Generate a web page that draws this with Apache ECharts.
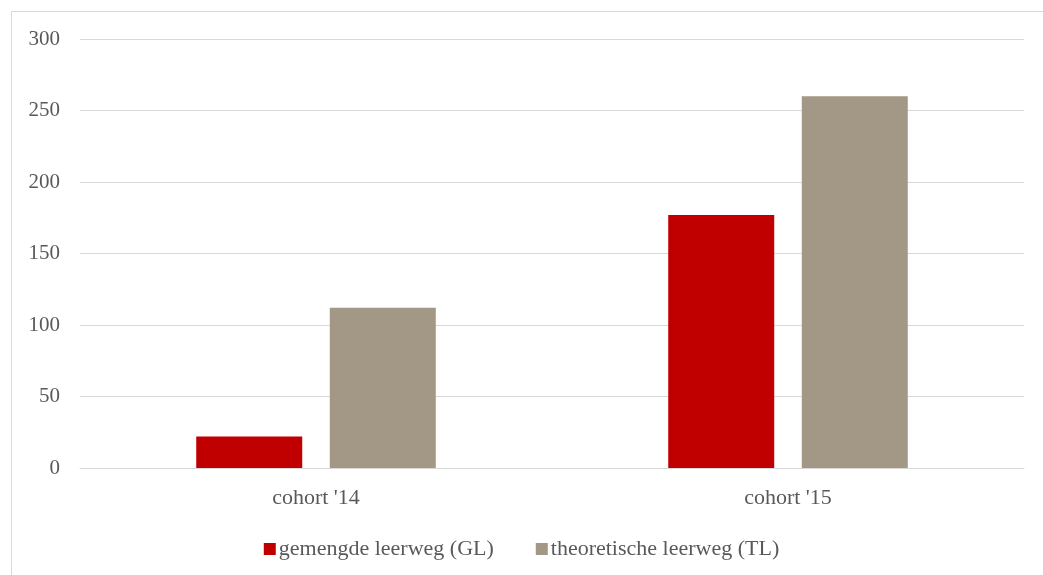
<!DOCTYPE html>
<html>
<head>
<meta charset="utf-8">
<script src="https://cdn.jsdelivr.net/npm/echarts@6/dist/echarts.min.js"></script>
<style>
html,body{margin:0;padding:0;background:#fff;}
#c{width:1043px;height:575px;}
</style>
</head>
<body>
<div id="c"></div>
<script>
const categories = ["cohort '14", "cohort '15"];
const seriesNames = ["gemengde leerweg (GL)", "theoretische leerweg (TL)"];
const glValues = [22, 177];
const tlValues = [112, 260];
const yTicks = [0, 50, 100, 150, 200, 250, 300];

const font = "'Liberation Serif', 'DejaVu Serif', serif";
const chart = echarts.init(document.getElementById('c'), null, {renderer: 'canvas'});
chart.setOption({
  animation: false,
  backgroundColor: '#fff',
  graphic: [{
    type: 'rect', left: 9, top: 9, silent: true,
    shape: {width: 1100, height: 620},
    style: {fill: 'none', stroke: '#d9d9d9', lineWidth: 1}
  }],
  grid: {left: 80, right: 19, top: 39, bottom: 107, containLabel: false},
  legend: {
    data: seriesNames,
    bottom: 10,
    left: 'center',
    itemWidth: 12, itemHeight: 12, itemGap: 42,
    icon: 'rect',
    textStyle: {fontFamily: font, fontSize: 22, color: '#595959', padding: [0, 0, 0, -2]}
  },
  xAxis: {
    type: 'category',
    data: categories,
    axisLine: {lineStyle: {color: '#d9d9d9', width: 1}},
    axisTick: {show: false},
    axisLabel: {fontFamily: font, fontSize: 22, color: '#595959', margin: 19}
  },
  yAxis: {
    type: 'value',
    min: yTicks[0], max: yTicks[yTicks.length - 1], interval: 50,
    axisLine: {show: false},
    axisTick: {show: false},
    splitLine: {lineStyle: {color: '#d9d9d9', width: 1}},
    axisLabel: {fontFamily: font, fontSize: 21, color: '#595959', margin: 20}
  },
  series: [
    {name: seriesNames[0], type: 'bar', data: glValues, barWidth: 106, barGap: '26%',
     itemStyle: {color: '#c00000'}},
    {name: seriesNames[1], type: 'bar', data: tlValues, barWidth: 106,
     itemStyle: {color: '#a29885'}}
  ]
});
</script>
</body>
</html>
